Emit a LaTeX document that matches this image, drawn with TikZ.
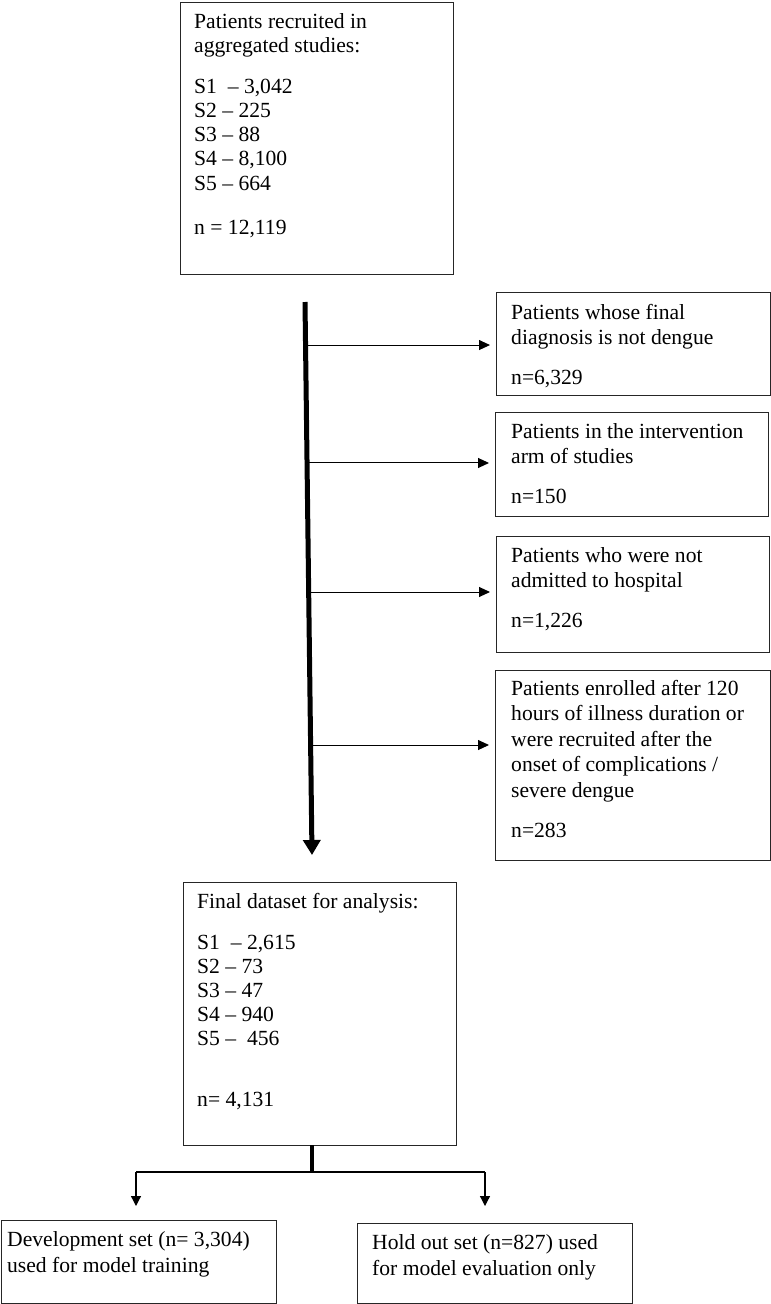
\documentclass[tikz,border=0pt]{standalone}
\usepackage{fontspec}
\setmainfont{Liberation Serif}
\usetikzlibrary{arrows.meta,calc}
\begin{document}
\begin{tikzpicture}[x=1pt,y=-1pt,
  boxst/.style={draw=black!85, line width=1.3pt, rectangle, inner sep=0pt, anchor=north west},
  txt/.style={anchor=north west, inner sep=0pt, align=left, font=\fontsize{21.6}{#1}\selectfont},
  txt/.default=25.5,
  brarrow/.style={line width=1pt, -{Triangle[width=10pt,length=11pt]}},
  trunk/.style={line width=5pt, -{Triangle[width=17pt,length=15pt]}},
  splitline/.style={line width=1.2pt},
  downarrow/.style={line width=1.2pt, -{Triangle[width=10pt,length=10pt]}}
]
\useasboundingbox (0,0) rectangle (771,1304);

% boxes
\node[boxst, minimum width=273pt, minimum height=272pt] (b1) at (180,2) {};
\node[boxst, minimum width=274pt, minimum height=103pt] (bA) at (496,292) {};
\node[boxst, minimum width=273pt, minimum height=104pt] (bB) at (495,412) {};
\node[boxst, minimum width=273pt, minimum height=116pt] (bC) at (496,536) {};
\node[boxst, minimum width=275pt, minimum height=190pt] (bD) at (495,670) {};
\node[boxst, minimum width=273pt, minimum height=263pt] (bF) at (183,882) {};
\node[boxst, minimum width=275pt, minimum height=83pt] (bDev) at (1,1220) {};
\node[boxst, minimum width=275pt, minimum height=80pt] (bHold) at (357,1223) {};

% texts
\node[txt=24.2] (t1) at (194,11.06) {\strut Patients recruited in\\aggregated studies:\\[16.6pt]
  S1\ \ – 3,042\\S2 – 225\\S3 – 88\\S4 – 8,100\\S5 – 664\\[20pt]n = 12,119};
\node[txt] (tA) at (511,301.15) {\strut Patients whose final\\diagnosis is not dengue\\[14pt]n=6,329};
\node[txt] (tB) at (511,420.15) {\strut Patients in the intervention\\arm of studies\\[14.5pt]n=150};
\node[txt] (tC) at (511,544.15) {\strut Patients who were not\\admitted to hospital\\[14.5pt]n=1,226};
\node[txt] (tD) at (511,677.15) {\strut Patients enrolled after 120\\hours of illness duration or\\were recruited after the\\onset of complications /\\severe dengue\\[14.5pt]n=283};
\node[txt=24] (tF) at (197,891.2) {\strut Final dataset for analysis:\\[17pt]
  S1\ \ – 2,615\\S2 – 73\\S3 – 47\\S4 – 940\\S5 –\ \ 456\\[37pt]n= 4,131};
\node[txt=26] (tDev) at (7,1227.8) {\strut Development set (n= 3,304)\\used for model training};
\node[txt=26] (tHold) at (372,1230.8) {\strut Hold out set (n=827) used\\for model evaluation only};

% trunk
\coordinate (ttop) at (305,302);
\coordinate (tbot) at (312,855);
\draw[trunk] (ttop) -- (tbot);

% branches
\coordinate (j1) at ($(ttop)!0.0778!(tbot)$);
\coordinate (j2) at ($(ttop)!0.2911!(tbot)$);
\coordinate (j3) at ($(ttop)!0.5244!(tbot)$);
\coordinate (j4) at ($(ttop)!0.8011!(tbot)$);
\draw[brarrow, shorten >=6pt] (j1) -- (j1 -| bA.west);
\draw[brarrow, shorten >=6pt] (j2) -- (j2 -| bB.west);
\draw[brarrow, shorten >=6pt] (j3) -- (j3 -| bC.west);
\draw[brarrow, shorten >=6pt] (j4) -- (j4 -| bD.west);

% split
\coordinate (s0) at (312,1145);
\coordinate (s1) at (312,1172);
\coordinate (sl) at (136,1172);
\coordinate (sr) at (485,1172);
\draw[line width=4.5pt] (s0) -- (s1);
\draw[splitline] (sl) -- (sr);
\draw[downarrow, shorten >=14pt] (sl) -- (sl |- bDev.north);
\draw[downarrow, shorten >=17pt] (sr) -- (sr |- bHold.north);
\end{tikzpicture}
\end{document}
